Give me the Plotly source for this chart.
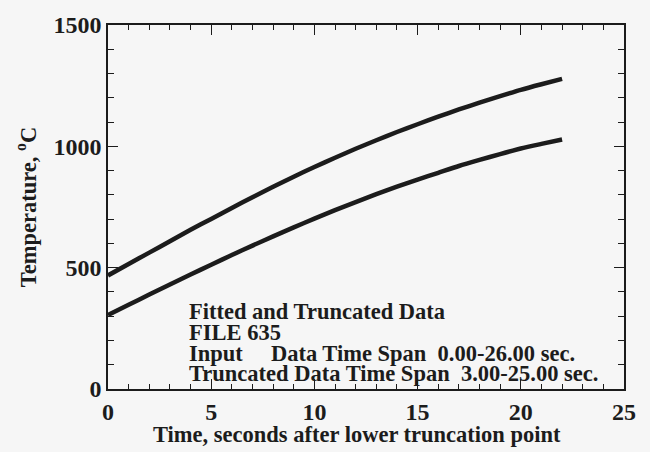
import plotly.graph_objects as go

time_s = [0, 1, 2, 3, 4, 5, 6, 7, 8, 9, 10, 11, 12, 13, 14, 15, 16, 17, 18, 19, 20, 21, 22]
upper_temp = [468, 515, 562, 609, 656, 701, 746, 790, 833, 875, 915, 953, 990, 1025, 1059,
              1091, 1122, 1152, 1180, 1207, 1233, 1256, 1278]
lower_temp = [305, 347, 389, 431, 472, 512, 552, 591, 629, 666, 702, 737, 770, 803, 834,
              863, 891, 919, 944, 968, 991, 1010, 1028]

x_ticks = [0, 5, 10, 15, 20, 25]
y_ticks = [0, 500, 1000, 1500]

note_lines = [
    "Fitted and Truncated Data",
    "FILE 635",
    "Input\u00a0\u00a0\u00a0\u00a0 Data Time Span\u00a0 0.00-26.00 sec.",
    "Truncated Data Time Span\u00a0 3.00-25.00 sec.",
]
note_y = [319, 232, 148, 62]

FONT = "Liberation Serif"
INK = "#1c1c1c"

fig = go.Figure()
for ys in (upper_temp, lower_temp):
    fig.add_trace(go.Scatter(x=time_s, y=ys, mode="lines",
                             line=dict(color=INK, width=4.5, shape="spline", smoothing=0.6),
                             showlegend=False))

for txt, yv in zip(note_lines, note_y):
    fig.add_annotation(x=3.83, y=yv, xref="x", yref="y", text="<b>" + txt + "</b>",
                       showarrow=False, xanchor="left", yanchor="middle",
                       font=dict(family=FONT, size=22.5, color=INK))

fig.add_annotation(x=0.482, y=-0.125, xref="paper", yref="paper",
                   text="<b>Time, seconds after lower truncation point</b>",
                   showarrow=False, xanchor="center", yanchor="middle",
                   font=dict(family=FONT, size=22.5, color=INK))

axis_common = dict(
    showline=True, linecolor=INK, linewidth=1.5, mirror="allticks",
    ticks="inside", ticklen=10, tickwidth=1.2, tickcolor=INK,
    showgrid=False, zeroline=False,
    tickfont=dict(family=FONT, size=24, color=INK),
)

fig.update_xaxes(range=[0, 25], tickvals=x_ticks, ticktext=[f"<b>{v}</b>" for v in x_ticks],
                 minor=dict(dtick=1, ticks="inside", ticklen=5, tickcolor=INK, tickwidth=1),
                 **axis_common)
fig.update_yaxes(range=[0, 1500], tickvals=y_ticks, ticktext=[f"<b>{v}</b>" for v in y_ticks],
                 minor=dict(dtick=100, ticks="inside", ticklen=6, tickcolor=INK, tickwidth=1),
                 title=dict(text="<b>Temperature, <sup>o</sup>C</b>",
                            font=dict(family=FONT, size=22.5, color=INK), standoff=11),
                 **axis_common)

fig.update_layout(
    width=650, height=452,
    margin=dict(l=108, r=26, t=13, b=63),
    paper_bgcolor="#f6f6f6", plot_bgcolor="#f6f6f6",
)

fig.write_html("out.html")
